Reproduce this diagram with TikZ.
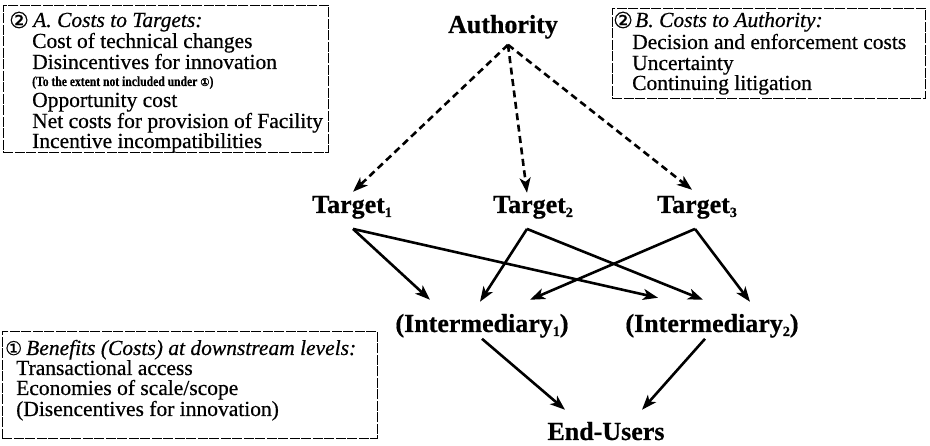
\documentclass[tikz,border=0pt]{standalone}
\usepackage{fontspec}
\setmainfont{Liberation Serif}[FakeBold=0.5]
\newfontfamily\circfont{DejaVu Sans}[FakeBold=0.8]
\newfontfamily\narrowfont{Liberation Serif}[FakeStretch=0.83,FakeBold=0.4]
\usetikzlibrary{arrows.meta,calc}

% small lowered index digit for actor names
\newcommand\lowidx[1]{\raisebox{-4pt}{\fontsize{14}{14}\selectfont #1}}

\tikzset{
  actor/.style={font=\fontsize{26}{26}\selectfont\bfseries, inner sep=0pt, anchor=base},
  notebox/.style={draw, line width=0.9pt, dash pattern=on 10pt off 1.5pt, inner sep=0pt, anchor=north west},
  noteline/.style={font=\fontsize{21.5}{21.5}\selectfont, inner sep=0pt, anchor=base west},
  notehead/.style={font=\fontsize{21.5}{21.5}\selectfont\itshape, inner sep=0pt, anchor=base west},
  notesmall/.style={font=\fontsize{14}{14}\selectfont\narrowfont\bfseries, inner sep=0pt, anchor=base west},
  numsym/.style={font=\fontsize{22}{22}\selectfont\circfont, inner sep=0pt, anchor=base west},
  link/.style={line width=2.6pt, -{Stealth[length=15pt,width=11pt,inset=4pt]}},
  govern/.style={link, dash pattern=on 7pt off 4.5pt},
}

\begin{document}
\begin{tikzpicture}[x=1pt,y=-1pt]
\useasboundingbox[fill=white] (0,0) rectangle (930,446);

% --- actors ---
\node[actor] (auth) at (503,33) {Authority};
\node[actor] (t1) at (352,213) {Target\lowidx{1}};
\node[actor] (t2) at (533,213) {Target\lowidx{2}};
\node[actor] (t3) at (697,213) {Target\lowidx{3}};
\node[actor] (i1) at (482,332) {(Intermediary\lowidx{1})};
\node[actor] (i2) at (712,332) {(Intermediary\lowidx{2})};
\node[actor] (eu) at (606,440) {End-Users};

% --- regulation: authority to targets ---
\coordinate (apex) at ($(auth.south)+(5,6)$);
\draw[govern] (apex) -- ($(t1.north)+(1,-4)$);
\draw[govern] (apex) -- ($(t2.north)+(-6,-3)$);
\draw[govern] (apex) -- ($(t3.north)+(-5,-6)$);

% --- targets to intermediaries ---
\draw[link] ($(t1.south)+(1,10)$) -- ($(i1.north)+(-52,-14)$);
\draw[link] ($(t1.south)+(1,10)$) -- ($(i2.north)+(-54,-16)$);
\draw[link] ($(t2.south)+(-6,10)$) -- ($(i1.north)+(-2,-12)$);
\draw[link] ($(t2.south)+(-6,10)$) -- ($(i2.north)+(-9,-14)$);
\draw[link] ($(t3.south)+(-2,10)$) -- ($(i1.north)+(48,-14)$);
\draw[link] ($(t3.south)+(-2,10)$) -- ($(i2.north)+(38,-12)$);

% --- intermediaries to end-users ---
\draw[link] ($(i1.south)+(0,1)$) -- ($(eu.north)+(-41,-12)$);
\draw[link] ($(i2.south)+(-7,1)$) -- ($(eu.north)+(36,-12)$);

% --- note A: costs to targets ---
\node[notebox, minimum width=325pt, minimum height=147pt] (boxA) at (3,5) {};
\node[numsym] (numA) at (9,28) {②};
\node[notehead] (headA) at (33,27) {A. Costs to Targets:};
\node[noteline] (a1) at (32,48) {Cost of technical changes};
\node[noteline] (a2) at (32,69) {Disincentives for innovation};
\node[notesmall] (a3) at (32,86) {(To the extent not included under {\circfont\fontsize{11}{11}\selectfont ①})};
\node[noteline] (a4) at (32,107) {Opportunity cost};
\node[noteline] (a5) at (32,128) {Net costs for provision of Facility};
\node[noteline] (a6) at (32,148) {Incentive incompatibilities};

% --- note B: costs to authority ---
\node[notebox, minimum width=313pt, minimum height=90pt] (boxB) at (612,8) {};
\node[numsym] (numB) at (613,28) {②};
\node[notehead] (headB) at (635,27) {B. Costs to Authority:};
\node[noteline] (b1) at (632,49) {Decision and enforcement costs};
\node[noteline] (b2) at (632,70) {Uncertainty};
\node[noteline] (b3) at (632,90) {Continuing litigation};

% --- note C: downstream benefits ---
\node[notebox, minimum width=375pt, minimum height=107pt] (boxC) at (2,331) {};
\node[numsym, font=\fontsize{19}{19}\selectfont\circfont] (numC) at (5,355) {①};
\node[notehead] (headC) at (26,355) {Benefits (Costs) at downstream levels:};
\node[noteline] (c1) at (16,375) {Transactional access};
\node[noteline] (c2) at (16,395) {Economies of scale/scope};
\node[noteline] (c3) at (16,416) {(Disencentives for innovation)};
\end{tikzpicture}
\end{document}
